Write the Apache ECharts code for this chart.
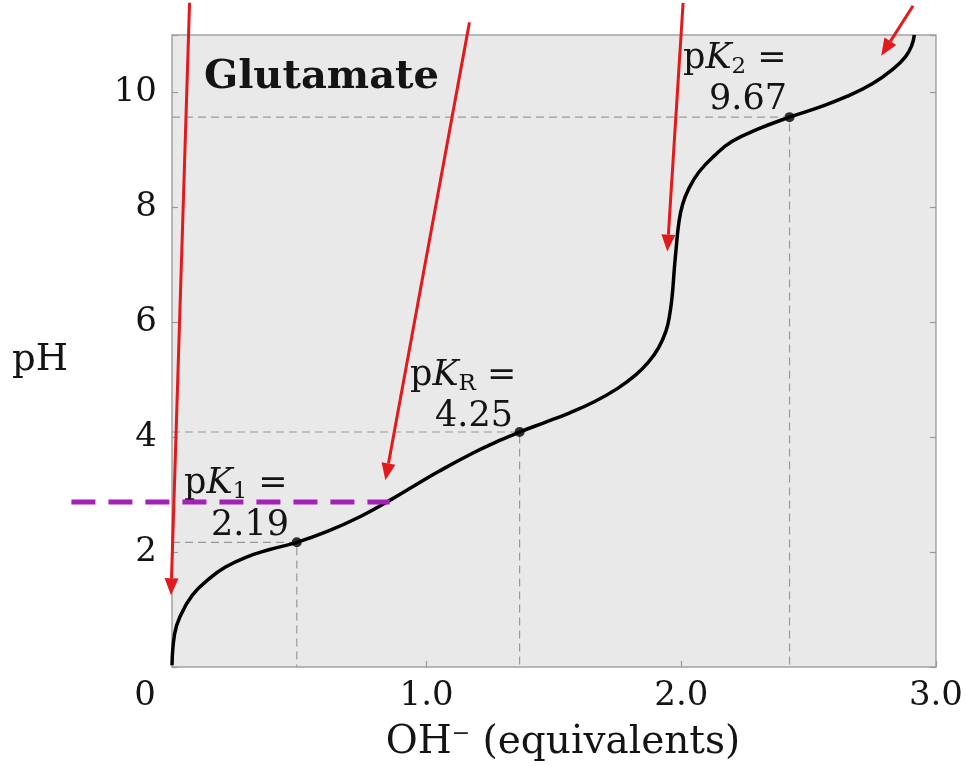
<!DOCTYPE html>
<html>
<head>
<meta charset="utf-8">
<script src="https://cdn.jsdelivr.net/npm/echarts@6/dist/echarts.min.js"></script>
<style>
  html, body { margin: 0; padding: 0; background: #fff; }
  #main { width: 966px; height: 767px; }
</style>
</head>
<body>
<div id="main"></div>
<script>
// titration curve of glutamate
var curveX  = [0, 0.01, 0.03, 0.08, 0.15, 0.21, 0.29, 0.38, 0.49, 0.61, 0.74, 0.855, 0.95, 1.05, 1.18, 1.28, 1.365, 1.46, 1.56, 1.66, 1.75, 1.82, 1.87, 1.91, 1.94, 1.955, 1.965, 1.972, 1.98, 1.99, 2.005, 2.03, 2.07, 2.13, 2.2, 2.3, 2.425, 2.54, 2.65, 2.75, 2.83, 2.88, 2.905, 2.915];
var curvePH = [0.03, 0.57, 0.86, 1.25, 1.55, 1.74, 1.91, 2.04, 2.17, 2.36, 2.62, 2.90, 3.15, 3.41, 3.72, 3.93, 4.09, 4.25, 4.42, 4.62, 4.85, 5.08, 5.30, 5.55, 5.85, 6.15, 6.5, 6.9, 7.3, 7.72, 8.05, 8.33, 8.62, 8.9, 9.15, 9.36, 9.57, 9.74, 9.93, 10.15, 10.4, 10.62, 10.82, 11.0];

// pK points (position as drawn, value as printed)
var pkX = [0.49, 1.365, 2.425];
var pkY = [2.17, 4.09, 9.57];
var pkText = ['2.19', '4.25', '9.67'];
var pkSub = ['1', 'R', '2'];

// ticks
var xTickValues = [0, 1, 2, 3];
var xTickLabels = ['0', '1.0', '2.0', '3.0'];
var yTickValues = [2, 4, 6, 8, 10];
var yTickLabels = ['2', '4', '6', '8', '10'];

// purple dashed marker line (pH level) and red arrows [x, pH]
var markerPH = 2.87;
var markerX = [-0.395, 0.855];
var arrowTail = [[0.069, 11.56], [1.168, 11.22], [2.007, 11.56], [2.91, 11.51]];
var arrowTip  = [[-0.004, 1.25], [0.838, 3.25], [1.945, 7.23], [2.785, 10.64]];

var FONT = 'DejaVu Serif';
var INK = '#141414';
var chart = echarts.init(document.getElementById('main'));

var curveData = curveX.map(function (x, i) { return [x, curvePH[i]]; });
var pkData = pkX.map(function (x, i) { return [x, pkY[i]]; });

var guideSeries = pkX.map(function (x, i) {
  return {
    type: 'line',
    data: [[0, pkY[i]], [x, pkY[i]], [x, 0]],
    symbol: 'none',
    silent: true,
    z: 2,
    lineStyle: { color: '#9a9a9a', width: 1.2, type: [8, 5] }
  };
});

var option = {
  animation: false,
  backgroundColor: '#fff',
  grid: {
    left: 172, right: 29, top: 35, bottom: 94,
    show: true,
    backgroundColor: '#e9e9e9',
    borderColor: '#a3a3a3',
    borderWidth: 1.5
  },
  xAxis: {
    type: 'value',
    min: 0, max: 3, interval: 1,
    axisLine: { show: false },
    splitLine: { show: false },
    axisTick: { show: true, inside: true, length: 6, lineStyle: { color: '#9a9a9a', width: 1.2 } },
    axisLabel: {
      margin: 12,
      fontFamily: FONT, fontSize: 34, color: INK,
      formatter: function (v) {
        var i = xTickValues.indexOf(v);
        if (i < 0) return '';
        return i === 0 ? '{z|' + xTickLabels[i] + '}' : xTickLabels[i];
      },
      rich: { z: { fontFamily: FONT, fontSize: 34, color: INK, padding: [0, 54, 0, 0] } }
    },
    name: '{n|OH}{s|\u2212}{n| (equivalents)}',
    nameLocation: 'middle',
    nameGap: 56,
    nameTextStyle: {
      padding: [0, 0, 0, 18],
      rich: {
        n: { fontFamily: FONT, fontSize: 39, color: INK },
        s: { fontFamily: FONT, fontSize: 22, color: INK, padding: [0, 0, 16, 0] }
      }
    }
  },
  yAxis: [{
    type: 'value',
    min: 0, max: 11, interval: 2,
    axisLine: { show: false },
    splitLine: { show: false },
    axisTick: { show: true, inside: true, length: 6, lineStyle: { color: '#9a9a9a', width: 1.2 } },
    axisLabel: {
      margin: 15,
      fontFamily: FONT, fontSize: 34, color: INK,
      formatter: function (v) {
        var i = yTickValues.indexOf(v);
        return i < 0 ? '' : yTickLabels[i];
      }
    }
  }, {
    type: 'value',
    position: 'right',
    min: 0, max: 11, interval: 2,
    axisLine: { show: false },
    splitLine: { show: false },
    axisLabel: { show: false },
    axisTick: { show: true, inside: true, length: 6, lineStyle: { color: '#9a9a9a', width: 1.2 } }
  }],
  series: guideSeries.concat([
    {
      type: 'line',
      data: curveData,
      symbol: 'none',
      smooth: 0.45,
      z: 5,
      lineStyle: { color: '#000', width: 3.5 }
    },
    {
      type: 'scatter',
      data: pkData,
      symbolSize: 10,
      z: 6,
      itemStyle: { color: '#000' }
    }
  ])
};
chart.setOption(option);

// text annotations
var richBase = {
  n: { fontFamily: FONT, fontSize: 35, fill: INK },
  i: { fontFamily: FONT, fontSize: 35, fontStyle: 'italic', fill: INK },
  s: { fontFamily: FONT, fontSize: 23, fill: INK, padding: [16, 0, 0, 0] }
};
var pkPos = [[184, 484, 250, 526], [410, 376, 474, 417], [683, 59, 748, 100]];

var graphics = [
  { type: 'text', left: 204, top: 58, z: 10,
    style: { text: 'Glutamate', fontFamily: FONT, fontSize: 40, fontWeight: 'bold', fill: INK } },
  { type: 'text', x: 12, y: 360, z: 10,
    style: { text: 'pH', fontFamily: FONT, fontSize: 37, fill: INK, align: 'left', verticalAlign: 'middle' } }
];
pkPos.forEach(function (p, i) {
  graphics.push({ type: 'text', x: p[0], y: p[1], z: 10,
    style: { text: '{n|p}{i|K}{s|' + pkSub[i] + '}{n| =}', rich: richBase, align: 'left', verticalAlign: 'middle' } });
  graphics.push({ type: 'text', x: p[2], y: p[3], z: 10,
    style: { text: pkText[i], fontFamily: FONT, fontSize: 35, fill: INK, align: 'center', verticalAlign: 'middle' } });
});

// purple dashed pH marker
var m0 = chart.convertToPixel({ gridIndex: 0 }, [markerX[0], markerPH]);
var m1 = chart.convertToPixel({ gridIndex: 0 }, [markerX[1], markerPH]);
graphics.push({ type: 'line', z: 15, shape: { x1: m0[0], y1: m0[1], x2: m1[0], y2: m1[1] },
  style: { stroke: '#a421b8', lineWidth: 5, lineDash: [24, 13] } });

// red arrows
arrowTail.forEach(function (t, i) {
  var a = chart.convertToPixel({ gridIndex: 0 }, t);
  var b = chart.convertToPixel({ gridIndex: 0 }, arrowTip[i]);
  var dx = b[0] - a[0], dy = b[1] - a[1];
  var len = Math.sqrt(dx * dx + dy * dy);
  var ux = dx / len, uy = dy / len;
  var headL = 17, headW = 7;
  var bx = b[0] - ux * headL, by = b[1] - uy * headL;
  graphics.push({ type: 'line', z: 20, shape: { x1: a[0], y1: a[1], x2: bx, y2: by },
    style: { stroke: '#e3191c', lineWidth: 3 } });
  graphics.push({ type: 'polygon', z: 20,
    shape: { points: [[b[0], b[1]], [bx - uy * headW, by + ux * headW], [bx + uy * headW, by - ux * headW]] },
    style: { fill: '#e3191c' } });
});

chart.setOption({ graphic: graphics });
</script>
</body>
</html>
